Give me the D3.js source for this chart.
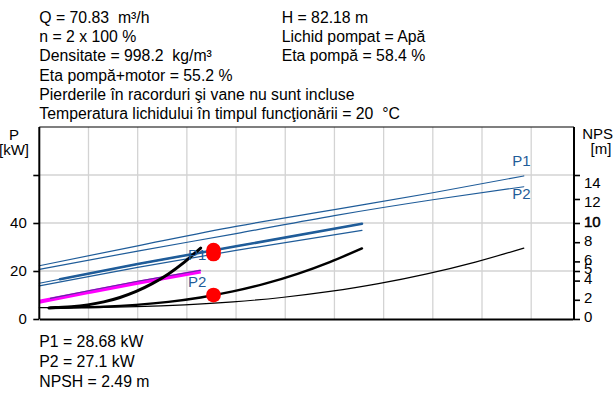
<!DOCTYPE html>
<html><head><meta charset="utf-8">
<script src="https://cdn.jsdelivr.net/npm/d3@7"></script>
<style>
html,body{margin:0;padding:0;background:#fff;}
svg{display:block;font-family:"Liberation Sans",Arial,sans-serif;}
text{white-space:pre;}
</style></head><body>
<svg id="c" width="613" height="394"></svg>
<script>
// ---- data ----
const infoLeft = ["Q = 70.83  m³/h","n = 2 x 100 %","Densitate = 998.2  kg/m³","Eta pompă+motor = 55.2 %","Pierderile în racorduri şi vane nu sunt incluse","Temperatura lichidului în timpul funcţionării = 20  °C"];
const infoRight = ["H = 82.18 m","Lichid pompat = Apă","Eta pompă = 58.4 %"];
const resultLines = ["P1 = 28.68 kW","P2 = 27.1 kW","NPSH = 2.49 m"];
const pTicks = [0,20,40,60];
const pTickLabels = ["0","20","40",""];
const npshTicks = [0,2,4,5,6,8,10,12,14];
const qGrid = [20,40,60,80,100,120,140,160,180,200];
// three-pump power lines
const q3 = [0,40,80,120,160,197];
const p1Three = [22.2,30.5,38.6,45.6,52.6,59.6];
const p2Three = [20.7,28.3,35.6,43.1,49.7,55.1];
// two-pump power lines
const q2 = [0,40,80,131.2];
const p1Two = [14.9,22.9,30.3,39.7];
const p2Two = [13.8,21.5,28.6,36.9];
const q2Hi = [8.4,40,80,131.2];
const p1TwoHi = [16.6,22.9,30.3,39.7];
// one-pump power lines
const q1 = [0,20,40,65.6];
const p2One = [7.2,11.2,15.1,19.8];
const q1b = [4.5,20,40,65.6];
const p1One = [8.6,11.8,15.7,20.3];
// NPSH curves
const nq3 = [0,19.7,39.4,59.1,78.8,98.5,118.2,137.9,157.6,177.3,197];
const npsh3 = [1.18,1.2,1.28,1.47,1.78,2.24,2.87,3.68,4.70,5.93,7.39];
const nq2 = [4.4,13.1,26.2,39.4,52.5,65.6,78.7,91.8,105,118.1,131.2];
const npsh2 = [1.15,1.2,1.28,1.47,1.78,2.24,2.87,3.68,4.70,5.93,7.35];
const nq1 = [3.9,6.6,13.1,19.7,26.2,32.8,39.4,45.9,52.5,59,65.6];
const npsh1 = [1.15,1.2,1.28,1.47,1.78,2.24,2.87,3.68,4.70,5.93,7.39];
// operating point
const opQ = 70.83, opP1 = 28.68, opP2 = 27.1, opNPSH = 2.49;

// ---- layout ----
const L = 39.3, R = 573, T = 127, B = 319;
const svg = d3.select("#c");
const x = d3.scaleLinear().domain([0,217]).range([L,R]);
const yP = d3.scaleLinear().domain([0,80]).range([B,T]);
const yN = d3.scaleLinear().domain([0,10,14]).range([yP(0),yP(40),yP(60)]);
const yNLab = d3.scaleLinear().domain([0,14]).range([316.7,183]);
const blue = "#1f5c99";
const fs = "15px";
const fsInfo = "15.8px";

// text block
const tg = svg.append("g").attr("font-size",fsInfo).attr("fill","#000");
tg.selectAll(".il").data(infoLeft).join("text").attr("x",L).attr("y",(d,i)=>22.6+i*19.3).text(d=>d);
tg.selectAll(".ir").data(infoRight).join("text").attr("x",281.7).attr("y",(d,i)=>22.6+i*19.3).text(d=>d);
tg.selectAll(".rl").data(resultLines).join("text").attr("x",L).attr("y",(d,i)=>347.3+i*20).text(d=>d);

// grid
const grid = svg.append("g").attr("stroke","#d3d3d3").attr("stroke-width",1.3);
grid.selectAll(".gv").data(qGrid).join("line").attr("x1",d=>x(d)).attr("x2",d=>x(d)).attr("y1",T).attr("y2",B);
grid.selectAll(".gh").data(pTicks.slice(1)).join("line").attr("x1",L).attr("x2",R).attr("y1",d=>yP(d)).attr("y2",d=>yP(d));

// frame top
svg.append("line").attr("x1",L).attr("x2",R+1).attr("y1",T).attr("y2",T).attr("stroke","#000").attr("stroke-width",1.2);

// curves
const lineP = (qs,vs)=>d3.line().x((d,i)=>x(qs[i])).y(d=>yP(d)).curve(d3.curveMonotoneX)(vs);
const lineN = (qs,vs)=>d3.line().x((d,i)=>x(qs[i])).y(d=>yN(d)).curve(d3.curveMonotoneX)(vs);
const cg = svg.append("g").attr("fill","none").attr("stroke-linecap","round");
cg.append("path").attr("d",lineN(nq3,npsh3)).attr("stroke","#000").attr("stroke-width",1.2);
cg.append("path").attr("d",lineP(q3,p1Three)).attr("stroke",blue).attr("stroke-width",1.2);
cg.append("path").attr("d",lineP(q3,p2Three)).attr("stroke",blue).attr("stroke-width",1.2);
cg.append("path").attr("d",lineP(q2,p1Two)).attr("stroke",blue).attr("stroke-width",1.2);
cg.append("path").attr("d",lineP(q2,p2Two)).attr("stroke",blue).attr("stroke-width",1.2);
cg.append("path").attr("d",lineP(q2Hi,p1TwoHi)).attr("stroke",blue).attr("stroke-width",2.6);
cg.append("path").attr("d",lineP(q1,p2One)).attr("stroke","#ff00ff").attr("stroke-width",4).attr("stroke-linecap","butt");
cg.append("path").attr("d",lineP(q1b,p1One)).attr("stroke","#5a2fa0").attr("stroke-width",1.1);
cg.append("path").attr("d",lineN(nq2,npsh2)).attr("stroke","#000").attr("stroke-width",2.4);
cg.append("path").attr("d",lineN(nq1,npsh1)).attr("stroke","#000").attr("stroke-width",3);

// curve labels
const lg = svg.append("g").attr("font-size",fs).attr("fill",blue);
lg.append("text").attr("x",x(q3[q3.length-1])-11.5).attr("y",yP(p1Three[p1Three.length-1])-10).text("P1");
lg.append("text").attr("x",x(q3[q3.length-1])-11.5).attr("y",yP(p2Three[p2Three.length-1])+12.5).text("P2");
lg.append("text").attr("x",x(opQ)-25.5).attr("y",yP(opP1)+9.5).text("P1");
lg.append("text").attr("x",x(opQ)-25.5).attr("y",yN(opNPSH)-8.5).text("P2");

// operating points
const dots = [[opQ,yP(opP1)],[opQ,yP(opP2)],[opQ,yN(opNPSH)]];
svg.append("g").selectAll("circle").data(dots).join("circle")
  .attr("cx",d=>x(d[0])).attr("cy",d=>d[1]).attr("r",7.4).attr("fill","#ff0000");

// axes
const axL = svg.append("g").attr("transform",`translate(${L},0)`)
  .call(d3.axisLeft(yP).tickValues(pTicks).tickFormat((d,i)=>pTickLabels[i]).tickSize(6).tickPadding(6.5));
axL.select(".domain").attr("stroke-width",2).attr("d",`M0,${T}V${B}`);
axL.selectAll(".tick line").attr("stroke-width",1.6);
axL.selectAll("text").attr("font-size",fs).attr("font-family","Liberation Sans, Arial, sans-serif").attr("fill","#000");

const axB = svg.append("g").attr("transform",`translate(0,${B})`)
  .call(d3.axisBottom(x).tickValues([]).tickSizeOuter(0));
axB.select(".domain").attr("stroke-width",2);

const axR = svg.append("g").attr("transform",`translate(${R+1},0)`)
  .call(d3.axisRight(yN).tickValues(npshTicks).tickFormat("").tickSize(6).tickSizeOuter(0));
axR.select(".domain").attr("stroke-width",2).attr("d",`M0,${T}V${B+1}`);
axR.selectAll(".tick line").attr("stroke-width",1.6);
const axRL = svg.append("g").attr("transform",`translate(${R+1},0)`)
  .call(d3.axisRight(yNLab).tickValues(npshTicks).tickSize(0).tickPadding(10));
axRL.select(".domain").remove();
axRL.selectAll("text").attr("font-size",fs).attr("font-family","Liberation Sans, Arial, sans-serif").attr("fill","#000")
  .attr("stroke",d=>d===10?"#000":"none").attr("stroke-width",0.5);

// axis titles
const at = svg.append("g").attr("font-size",fs).attr("fill","#000").attr("text-anchor","middle");
at.append("text").attr("x",14).attr("y",140).text("P");
at.append("text").attr("x",14).attr("y",155).text("[kW]");
at.append("text").attr("x",603).attr("y",139).text("NPSH");
at.append("text").attr("x",601).attr("y",154).text("[m]");
</script></body></html>
